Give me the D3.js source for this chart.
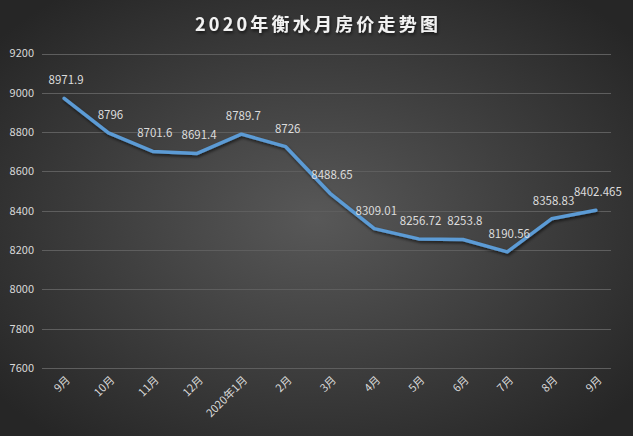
<!DOCTYPE html>
<html><head><meta charset="utf-8">
<script src="https://cdn.jsdelivr.net/npm/d3@7"></script>
<style>html,body{margin:0;padding:0;background:#333;}svg{display:block;}</style>
</head><body>
<script>
const categories = ["9月","10月","11月","12月","2020年1月","2月","3月","4月","5月","6月","7月","8月","9月"];
const prices = [8971.9, 8796, 8701.6, 8691.4, 8789.7, 8726, 8488.65, 8309.01, 8256.72, 8253.8, 8190.56, 8358.83, 8402.465];
const labels = ["8971.9","8796","8701.6","8691.4","8789.7","8726","8488.65","8309.01","8256.72","8253.8","8190.56","8358.83","8402.465"];
const yTicks = [7600, 7800, 8000, 8200, 8400, 8600, 8800, 9000, 9200];
const title = "2020年衡水月房价走势图";

const W = 633, H = 436;
const svg = d3.select("body").append("svg").attr("width", W).attr("height", H);
const defs = svg.append("defs");
const rg = defs.append("radialGradient").attr("id","bg").attr("cx","50%").attr("cy","50%").attr("r","65%");
rg.append("stop").attr("offset","0%").attr("stop-color","#585858");
rg.append("stop").attr("offset","100%").attr("stop-color","#262626");
const f = defs.append("filter").attr("id","sh").attr("x","-10%").attr("y","-10%").attr("width","120%").attr("height","130%");
f.append("feDropShadow").attr("dx",1).attr("dy",2).attr("stdDeviation",1.5).attr("flood-color","#000").attr("flood-opacity",0.6);

svg.append("rect").attr("width",W).attr("height",H).attr("fill","url(#bg)");

const font = "'Noto Sans CJK SC', 'Liberation Sans', sans-serif";
const x = d3.scalePoint().domain(d3.range(categories.length)).range([42, 618]).padding(0.5);
const y = d3.scaleLinear().domain([7600, 9200]).range([368, 53.5]);

// grid
svg.append("g").selectAll("line").data(yTicks).join("line")
  .attr("x1", 42).attr("x2", 611)
  .attr("y1", d => Math.round(y(d)) + 0.5).attr("y2", d => Math.round(y(d)) + 0.5)
  .attr("stroke", "#5e5e5e").attr("stroke-width", 1);

// y labels
svg.append("g").selectAll("text").data(yTicks).join("text")
  .attr("x", 34).attr("y", d => y(d)).attr("dy", "0.35em")
  .attr("text-anchor", "end").attr("fill", "#d9d9d9")
  .attr("font-family", font).attr("font-size", 11).text(d => d);

// x labels
svg.append("g").selectAll("text").data(categories).join("text")
  .attr("transform", (d, i) => `translate(${x(i) + 4},${378}) rotate(-45)`)
  .attr("text-anchor", "end").attr("dy", "0.35em")
  .attr("fill", "#d9d9d9").attr("font-family", font).attr("font-size", 11).text(d => d);

// line
const line = d3.line().x((d, i) => x(i)).y(d => y(d));
svg.append("path").datum(prices).attr("d", line)
  .attr("fill", "none").attr("stroke", "#5b9bd5").attr("stroke-width", 3.5)
  .attr("stroke-linejoin", "round").attr("stroke-linecap", "round").attr("filter", "url(#sh)");

// data labels
svg.append("g").selectAll("text").data(prices).join("text")
  .attr("x", (d, i) => x(i) + 2).attr("y", d => y(d) - 14)
  .attr("text-anchor", "middle").attr("fill", "#dcdcdc")
  .attr("font-family", font).attr("font-size", 11.5).text((d, i) => labels[i]);

// title
svg.append("text").attr("x", W / 2 + 1.6).attr("y", 31).attr("text-anchor", "middle")
  .attr("fill", "#f2f2f2").attr("font-family", font).attr("font-weight", "bold")
  .attr("font-size", 18).attr("letter-spacing", 3.2).attr("filter", "url(#sh)").text(title);
</script>
</body></html>
